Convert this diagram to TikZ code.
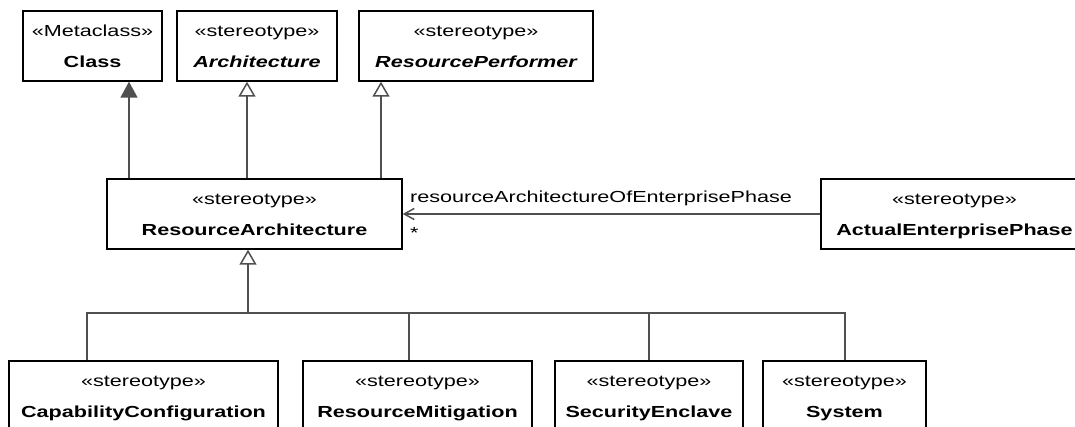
\documentclass[tikz,border=0pt]{standalone}
\usepackage{fontspec}
\setmainfont{Liberation Sans}[FakeStretch=1.35]
\usetikzlibrary{arrows.meta}
\definecolor{connc}{HTML}{505050}
\tikzset{
  cls/.style={draw=black, line width=1.4pt, fill=white, minimum height=70pt,
    inner sep=0pt, align=center, font=\fontsize{16}{31}\selectfont},
  connline/.style={draw=connc, line width=1.5pt},
  genarrow/.style={connline, -{Triangle[open, length=15pt, width=17pt, fill=white]}},
  extarrow/.style={connline, -{Triangle[length=16pt, width=17pt, fill=connc]}},
  assocarrow/.style={connline, -{Straight Barb[length=10pt, width=11pt]}},
  lbl/.style={font=\fontsize{16}{19}\selectfont, inner sep=0pt},
}
\begin{document}
\begin{tikzpicture}[x=1pt, y=-1pt]
\useasboundingbox (0,0) rectangle (1075,427);
\clip (0,0) rectangle (1075,427);
% top row
\node[cls, minimum width=139pt] (Class) at (92.5,46) {\strut«Metaclass»\\\strut\bfseries Class};
\node[cls, minimum width=160pt] (Arch) at (257,46) {\strut«stereotype»\\\strut\bfseries\itshape Architecture};
\node[cls, minimum width=234pt] (RP) at (476,46) {\strut«stereotype»\\\strut\bfseries\itshape ResourcePerformer};
% middle row
\node[cls, minimum width=295pt] (RA) at (254.5,214) {\strut«stereotype»\\\strut\bfseries ResourceArchitecture};
\node[cls, minimum width=267pt] (AEP) at (954.5,214) {\strut«stereotype»\\\strut\bfseries ActualEnterprisePhase};
% bottom row
\node[cls, minimum width=269pt] (CC) at (143.5,396) {\strut«stereotype»\\\strut\bfseries CapabilityConfiguration};
\node[cls, minimum width=229pt] (RM) at (417.5,396) {\strut«stereotype»\\\strut\bfseries ResourceMitigation};
\node[cls, minimum width=188pt] (SE) at (649,396) {\strut«stereotype»\\\strut\bfseries SecurityEnclave};
\node[cls, minimum width=163pt] (Sys) at (844.5,396) {\strut«stereotype»\\\strut\bfseries System};
% x positions of connectors
\coordinate (xc) at (129,0);
\coordinate (xa) at (247,0);
\coordinate (xp) at (381,0);
\coordinate (xb) at (248,313);
\coordinate (x1) at (87,313);
\coordinate (x2) at (409,313);
\coordinate (x3) at (649,313);
\coordinate (x4) at (845,313);
% generalizations to top row
\draw[extarrow] (xc |- RA.north) -- (xc |- Class.south);
\draw[genarrow] (xa |- RA.north) -- (xa |- Arch.south);
\draw[genarrow] (xp |- RA.north) -- (xp |- RP.south);
% association
\draw[assocarrow] (AEP.west) -- (RA.east);
\node[lbl, anchor=base west] (assoclbl) at (410,203) {resourceArchitectureOfEnterprisePhase};
\node[lbl, anchor=base west] (mult) at (410,239) {*};
% generalization tree from bottom row
\draw[connline] (x1 |- CC.north) -- (x1) -- (x4) -- (x4 |- Sys.north);
\draw[connline] (x2) -- (x2 |- RM.north);
\draw[connline] (x3) -- (x3 |- SE.north);
\draw[genarrow] (xb) -- (xb |- RA.south);
\end{tikzpicture}
\end{document}
